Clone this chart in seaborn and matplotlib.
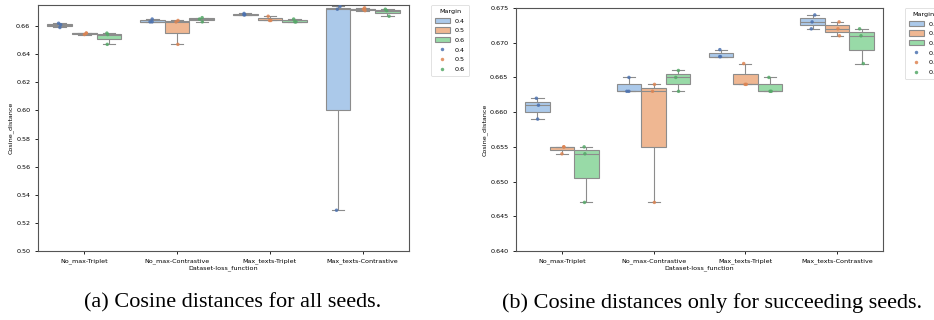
import numpy as np
import pandas as pd
import seaborn as sns
import matplotlib.pyplot as plt

# categories and margins
groups = ['No_max-Triplet', 'No_max-Contrastive', 'Max_texts-Triplet', 'Max_texts-Contrastive']
margins = ['0.4', '0.5', '0.6']

# cosine distances per seed, only succeeding seeds (panel b)
succ_no_max_triplet = {'0.4': [0.659, 0.661, 0.662], '0.5': [0.654, 0.655, 0.655], '0.6': [0.647, 0.654, 0.655]}
succ_no_max_contrastive = {'0.4': [0.663, 0.663, 0.665], '0.5': [0.647, 0.663, 0.664], '0.6': [0.663, 0.665, 0.666]}
succ_max_texts_triplet = {'0.4': [0.668, 0.668, 0.669], '0.5': [0.664, 0.664, 0.667], '0.6': [0.663, 0.663, 0.665]}
succ_max_texts_contrastive = {'0.4': [0.672, 0.673, 0.674], '0.5': [0.671, 0.672, 0.673], '0.6': [0.667, 0.671, 0.672]}

# all seeds (panel a) - only Max_texts-Contrastive / 0.4 differs (failing seed)
all_max_texts_contrastive = {'0.4': [0.529, 0.672, 0.674], '0.5': [0.671, 0.672, 0.673], '0.6': [0.667, 0.671, 0.672]}


def build_df(tables):
    rows = []
    for group, table in zip(groups, tables):
        for m in margins:
            for v in table[m]:
                rows.append({'Dataset-loss_function': group, 'Margin': m, 'Cosine_distance': v})
    return pd.DataFrame(rows)


df_all = build_df([succ_no_max_triplet, succ_no_max_contrastive, succ_max_texts_triplet, all_max_texts_contrastive])
df_succ = build_df([succ_no_max_triplet, succ_no_max_contrastive, succ_max_texts_triplet, succ_max_texts_contrastive])

fs = 4.6


def draw_panel(ax, df, ylim, yticks, fmt):
    sns.boxplot(data=df, x='Dataset-loss_function', y='Cosine_distance', hue='Margin',
                hue_order=margins, order=groups, palette='pastel', showfliers=False,
                linewidth=0.8, linecolor='#8c8c8c', ax=ax)
    np.random.seed(3)
    sns.stripplot(data=df, x='Dataset-loss_function', y='Cosine_distance', hue='Margin',
                  hue_order=margins, order=groups, palette='deep', dodge=True, size=2.5,
                  jitter=0.08, alpha=0.85, ax=ax)
    ax.set_ylim(*ylim)
    ax.set_yticks(yticks)
    ax.set_yticklabels([fmt.format(t) for t in yticks])
    ax.tick_params(labelsize=fs, length=2, width=0.6)
    ax.set_xlabel('Dataset-loss_function', fontsize=fs, labelpad=1)
    ax.set_ylabel('Cosine_distance', fontsize=fs, labelpad=2)
    for s in ax.spines.values():
        s.set_linewidth(0.8)
        s.set_color('#555555')
    leg = ax.legend(title='Margin', loc='upper left', bbox_to_anchor=(1.06, 1.0), borderaxespad=0,
                    fontsize=fs, title_fontsize=fs, handlelength=2.3, handleheight=0.9,
                    labelspacing=0.6, borderpad=0.6)
    leg.get_frame().set_linewidth(0.5)


fig = plt.figure(figsize=(9.34, 3.2), dpi=100)
ax1 = fig.add_axes([38 / 934, 1 - 251 / 320, 371 / 934, 246 / 320])
ax2 = fig.add_axes([516 / 934, 1 - 251 / 320, 367 / 934, 243 / 320])

draw_panel(ax1, df_all, (0.50, 0.675), np.arange(0.50, 0.661, 0.02), '{:.2f}')
draw_panel(ax2, df_succ, (0.640, 0.675), np.arange(0.640, 0.6751, 0.005), '{:.3f}')

fig.text(233 / 934, 1 - 303 / 320, '(a) Cosine distances for all seeds.', ha='center', va='center',
         fontsize=16, family='Liberation Serif')
fig.text(712 / 934, 1 - 303 / 320, '(b) Cosine distances only for succeeding seeds.', ha='center', va='center',
         fontsize=16, family='Liberation Serif')

fig.savefig('out.png', dpi=100)
